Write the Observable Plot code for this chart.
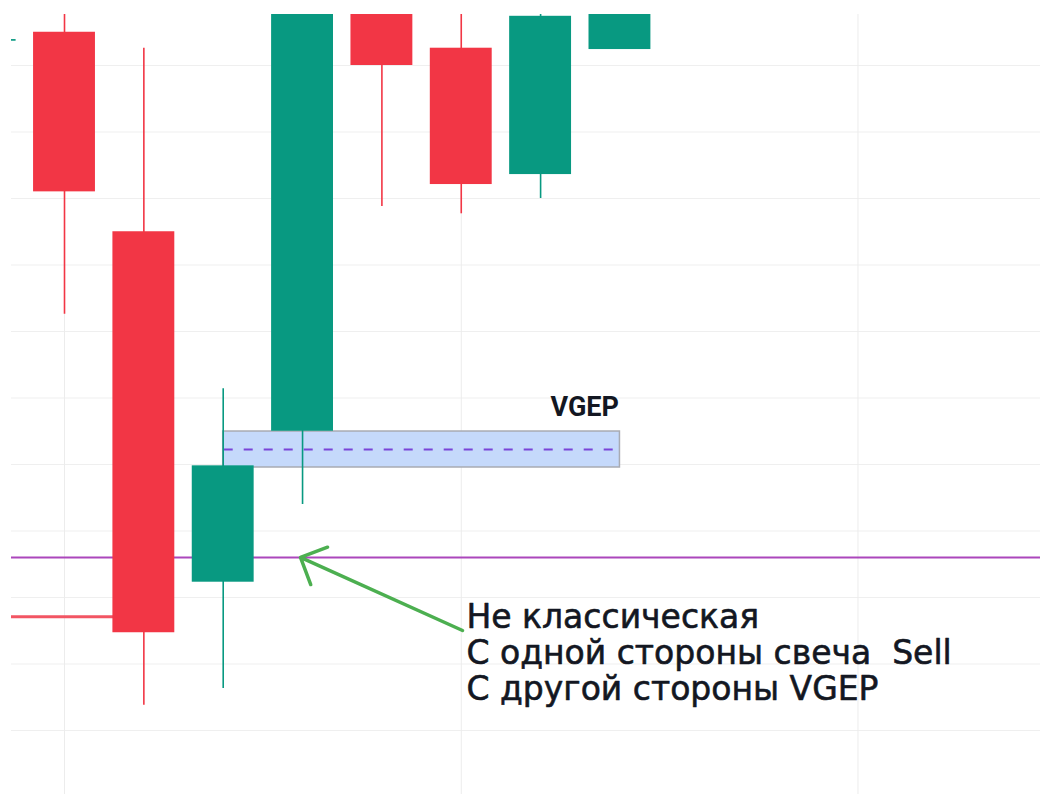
<!DOCTYPE html>
<html>
<head>
<meta charset="utf-8">
<script src="https://cdn.jsdelivr.net/npm/d3@7"></script>
<script src="https://cdn.jsdelivr.net/npm/@observablehq/plot@0.6"></script>
<style>
  html, body { margin: 0; padding: 0; background: #ffffff; }
  #chart svg { display: block; }
</style>
</head>
<body>
<div id="chart"></div>
<script>
// ---- data (price units are arbitrary, 10 per grid step) ----
const candleIndex = [0, 1, 2, 3, 4, 5, 6, 7, 8];
const openVals  = [103.65, 105.0, 75.0, 22.3, 45.0, 112.0, 102.6, 83.6, 102.4];
const closeVals = [103.9,  81.0,  14.7, 39.8, 112.0, 100.0, 82.1, 107.4, 110.0];
const highVals  = [104.0, 110.0, 102.6, 51.4, 115.0, 114.0, 110.0, 108.0, 112.0];
const lowVals   = [103.5,  62.6,   3.8,  6.3,  34.0,  78.8,  77.7,  80.0, 102.4];

const gridPrices = [0, 10, 20, 30, 40, 50, 60, 70, 80, 90, 100];
const gridCandles = [1, 6, 11];

const purpleLevel = 26.0;
const redLevel = 17.1;
const redLevelFrom = 0;
const redLevelTo = 2;

const zoneFrom = 3;
const zoneTo = 8;
const zoneLow = 39.55;
const zoneHigh = 44.96;
const zoneMid = 42.26;
const zoneLabel = "VGEP";
const zoneLabelPrice = 48.6;

const arrowFrom = {x: 6.016, y: 15.04};
const arrowTo = {x: 3.974, y: 26.02};

const noteLines = ["Не классическая", "С одной стороны свеча  Sell", "С другой стороны VGEP"];
const noteX = 6.066;
const noteY = 19.3;

// ---- build table ----
const candles = candleIndex.map((i, k) => ({
  i, open: openVals[k], close: closeVals[k], high: highVals[k], low: lowVals[k],
  up: closeVals[k] >= openVals[k]
}));

const RED = "#f23645";
const TEAL = "#089981";
const half = 0.39;

const chart = Plot.plot({
  width: 1040,
  height: 794,
  marginTop: 14,
  marginBottom: 0,
  marginLeft: 11,
  marginRight: 0,
  style: {background: "#ffffff", overflow: "visible"},
  x: {domain: [0.332, 13.30], axis: null},
  y: {domain: [-9.624, 107.67], axis: null},
  marks: [
    Plot.ruleY(gridPrices, {stroke: "#efefef", strokeWidth: 1}),
    Plot.ruleX(gridCandles, {stroke: "#ececec", strokeWidth: 1}),
    Plot.ruleY([purpleLevel], {stroke: "#ab47bc", strokeWidth: 2}),
    Plot.ruleY([{y: redLevel, x1: redLevelFrom, x2: redLevelTo}], {
      y: "y", x1: "x1", x2: "x2", stroke: "#f25563", strokeWidth: 3, clip: true
    }),
    Plot.rect([{x1: zoneFrom, x2: zoneTo, y1: zoneLow, y2: zoneHigh}], {
      x1: "x1", x2: "x2", y1: "y1", y2: "y2",
      fill: "#c5d9fb", stroke: "#a8abb3", strokeWidth: 1.5
    }),
    Plot.ruleY([{y: zoneMid, x1: zoneFrom, x2: zoneTo}], {
      y: "y", x1: "x1", x2: "x2", stroke: "#7a45d8", strokeWidth: 2,
      strokeDasharray: "9 11", strokeDashoffset: -1
    }),
    Plot.ruleX(candles, {
      x: "i", y1: "low", y2: "high",
      stroke: d => d.up ? TEAL : RED, strokeWidth: 1.6, clip: true
    }),
    Plot.rectY(candles, {
      x1: d => d.i - half, x2: d => d.i + half, y1: "open", y2: "close",
      fill: d => d.up ? TEAL : RED, clip: true
    }),
    Plot.text([zoneLabel], {
      x: zoneTo, y: zoneLabelPrice, text: d => d, textAnchor: "end",
      fontFamily: "Roboto", fontWeight: "bold", fontSize: 27, fill: "#131722", dx: -1
    }),
    Plot.arrow([{x1: arrowFrom.x, y1: arrowFrom.y, x2: arrowTo.x, y2: arrowTo.y}], {
      x1: "x1", y1: "y1", x2: "x2", y2: "y2",
      stroke: "#4caf50", strokeWidth: 3.5, headAngle: 90, headLength: 12.4
    }),
    Plot.text([noteLines.join("\n")], {
      x: noteX, y: noteY, text: d => d, textAnchor: "start", lineAnchor: "top",
      lineHeight: 1.09, fontFamily: "DejaVu Sans", fontSize: 33, fill: "#131722",
      stroke: "#131722", strokeWidth: 0.6
    })
  ]
});

document.getElementById("chart").appendChild(chart);
</script>
</body>
</html>
